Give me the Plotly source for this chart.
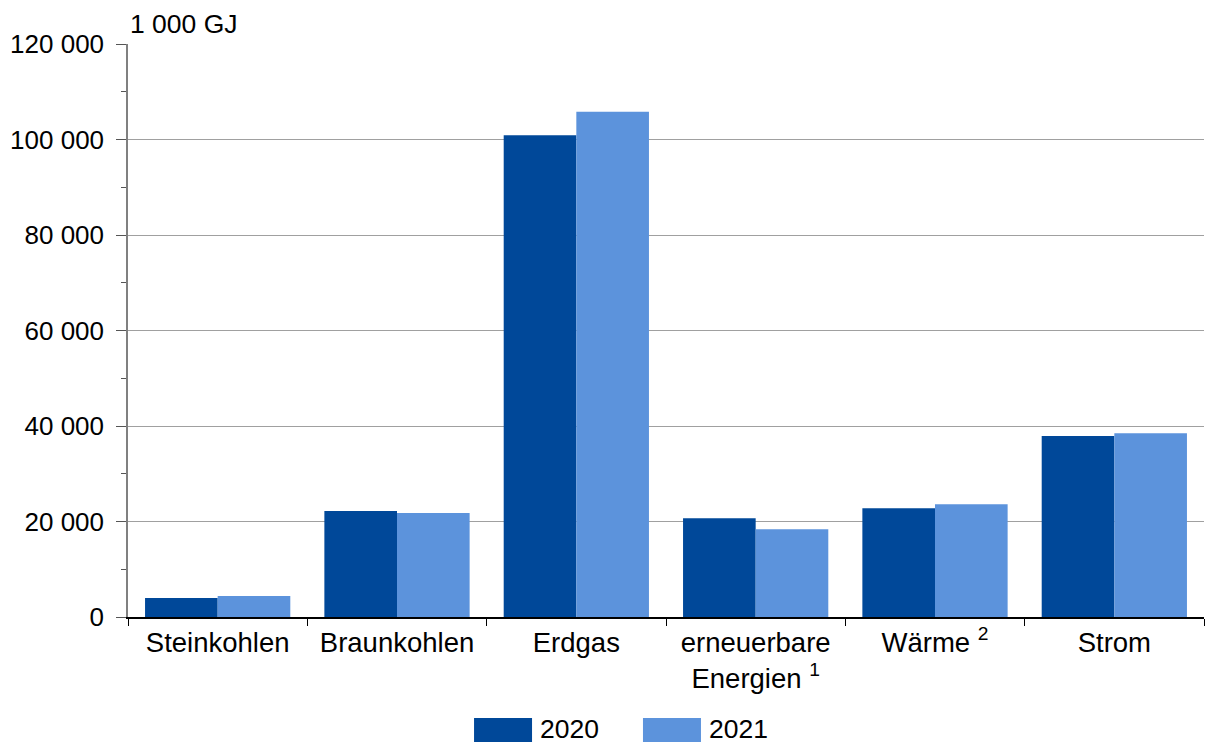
import plotly.graph_objects as go

categories = ["Steinkohlen", "Braunkohlen", "Erdgas", "erneuerbare<br>Energien <sup>1</sup>", "Wärme <sup>2</sup>", "Strom"]
values_2020 = [4000, 22200, 100900, 20700, 22800, 37900]
values_2021 = [4400, 21800, 105800, 18400, 23600, 38500]
series_names = ["2020", "2021"]
y_ticks = [0, 20000, 40000, 60000, 80000, 100000, 120000]
unit_label = "1 000 GJ"

c2020 = "#004899"
c2021 = "#5C93DC"
font_family = "Liberation Sans, Arial, sans-serif"
fs = 26

fig = go.Figure()
fig.add_trace(go.Bar(x=categories, y=values_2020, name=series_names[0], marker_color=c2020, marker_line_width=0))
fig.add_trace(go.Bar(x=categories, y=values_2021, name=series_names[1], marker_color=c2021, marker_line_width=0))

fig.update_layout(
    width=1206, height=743,
    margin=dict(l=128, r=2, t=44, b=126),
    barmode="group", bargap=0.19, bargroupgap=0,
    plot_bgcolor="white", paper_bgcolor="white",
    font=dict(family=font_family, size=fs, color="black"),
    separators=", ",
    showlegend=False,
)
fig.update_xaxes(
    type="category", tickson="boundaries", ticks="outside", ticklen=7, tickcolor="black",
    showline=True, linecolor="black", linewidth=1.5, showgrid=False,
    tickfont=dict(size=27.5),
)
fig.update_yaxes(
    range=[0, 120000], tickvals=y_ticks, tickformat=",d", ticks="outside", ticklen=10,
    tickcolor="#555555", showline=True, linecolor="#808080", linewidth=1.5,
    showgrid=True, gridcolor="#A0A0A0", gridwidth=1, zeroline=False,
    ticklabelstandoff=7, tickfont=dict(size=26),
    minor=dict(dtick=10000, ticks="outside", ticklen=5, tickcolor="#555555", showgrid=False),
)

# Title / unit label
fig.add_annotation(text=unit_label, xref="paper", yref="paper", x=0, y=1, xanchor="left",
                   yanchor="bottom", showarrow=False, yshift=3, font=dict(size=26.5))

# Custom legend
leg = [(0.3216, 0.3755, c2020, series_names[0]), (0.4786, 0.5325, c2021, series_names[1])]
for x0, x1, col, name in leg:
    fig.add_shape(type="rect", xref="paper", yref="paper", x0=x0, x1=x1, y0=-0.218, y1=-0.1763,
                  fillcolor=col, line_width=0)
    fig.add_annotation(text=name, xref="paper", yref="paper", x=x1 + 0.006, y=-0.196,
                       xanchor="left", yanchor="middle", showarrow=False, font=dict(size=26.5))

fig.write_html("out.html", config={"displayModeBar": False},
               post_script="document.body.style.margin='0px';document.body.style.overflow='hidden';")
